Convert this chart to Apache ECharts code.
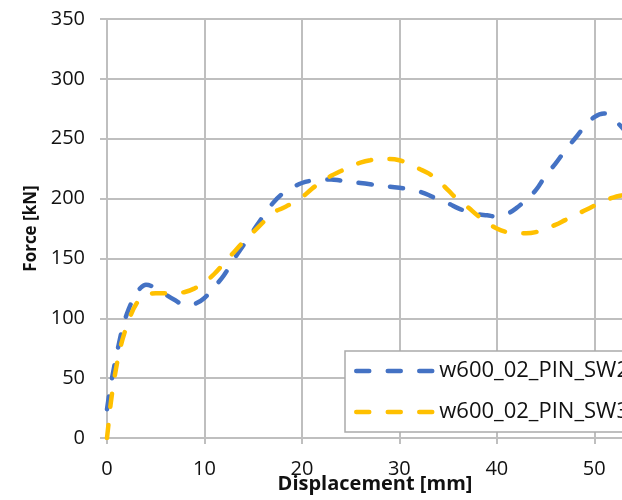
<!DOCTYPE html>
<html>
<head>
<meta charset="utf-8">
<script src="https://cdn.jsdelivr.net/npm/echarts@6/dist/echarts.min.js"></script>
<style>
html,body{margin:0;padding:0;background:#fff;overflow:hidden;width:622px;height:500px;}
#chart{width:643px;height:500px;position:absolute;left:0;top:0;}
</style>
</head>
<body>
<div id="chart"></div>
<script>
// ---- data ----
var seriesNames = ['w600_02_PIN_SW2', 'w600_02_PIN_SW3'];
var xTickValues = [0, 10, 20, 30, 40, 50];
var yTickValues = [0, 50, 100, 150, 200, 250, 300, 350];

var dispSW2 = [0, 0.3, 0.7, 1.2, 1.7, 2.2, 2.8, 3.4, 4, 4.8, 5.8, 7, 8, 9, 10, 11, 12, 13, 14, 15, 16, 17, 18, 19, 20, 21, 22, 23, 24, 25, 26, 27, 28, 29, 30, 31, 32, 33, 34, 35, 36, 37, 38, 39, 40, 41, 42, 43, 44, 45, 46, 47, 48, 49, 50, 51, 52, 53, 54, 55];
var forceSW2 = [24, 40, 58, 78, 95, 107, 118, 125, 128, 126, 121, 115, 111, 112, 117, 126, 136, 149, 161, 173, 185, 196, 204, 209, 213, 215, 216, 216, 215, 214, 213, 212, 211, 210, 209, 208, 206, 203, 199, 196, 192, 189, 187, 186, 185, 187, 192, 199, 207, 219, 229, 240, 250, 260, 268, 271, 266, 258, 248, 237];

var dispSW3 = [0, 0.2, 0.4, 0.8, 1.3, 1.8, 2.4, 3.0, 3.6, 4.3, 5, 6, 7, 8, 9, 10, 11, 12, 13, 14, 15, 16, 17, 18, 19, 20, 21, 22, 23, 24, 25, 26, 27, 28, 29, 30, 31, 32, 33, 34, 35, 36, 37, 38, 39, 40, 41, 42, 43, 44, 45, 46, 47, 48, 49, 50, 51, 52, 53, 54, 55];
var forceSW3 = [0, 15, 30, 52, 73, 88, 102, 112, 117, 120, 121, 121, 121, 122, 125, 130, 137, 146, 155, 164, 172, 180, 188, 192, 196, 201, 208, 214, 219, 223, 227, 230, 232, 233, 233, 232, 229, 225, 221, 215, 207, 199, 193, 186, 180, 175, 172, 171, 171, 172, 175, 178, 182, 186, 190, 194, 198, 201, 203, 205, 207];

function pairs(xs, ys) {
  var out = [];
  for (var i = 0; i < xs.length; i++) out.push([xs[i], ys[i]]);
  return out;
}

var gridColor = '#BFBFBF';
var textColor = '#111';
var fontFam = '"Open Sans", "Noto Sans", sans-serif';

var chart = echarts.init(document.getElementById('chart'), null, {renderer: 'canvas', width: 643, height: 500});
chart.setOption({
  animation: false,
  backgroundColor: '#fff',
  grid: {left: 107, top: 19, height: 419, width: 536, containLabel: false, outerBoundsMode: 'none'},
  xAxis: {
    type: 'value', min: 0, max: 55, interval: 10,
    name: 'Displacement [mm]', nameLocation: 'middle', nameGap: 36, nameMoveOverlap: false,
    nameTextStyle: {fontFamily: fontFam, fontSize: 20, fontWeight: 'bold', color: textColor},
    axisLine: {show: true, lineStyle: {color: gridColor, width: 2}},
    axisTick: {show: true, length: 6, lineStyle: {color: gridColor, width: 2}},
    axisLabel: {
      margin: 21, color: textColor, fontFamily: fontFam, fontSize: 20,
      formatter: function (v) { return xTickValues.indexOf(v) >= 0 ? String(v) : ''; }
    },
    splitLine: {show: true, lineStyle: {color: gridColor, width: 2}}
  },
  yAxis: {
    type: 'value', min: 0, max: 350, interval: 50,
    name: 'Force [kN]', nameLocation: 'middle', nameGap: 61, nameRotate: 90,
    nameTextStyle: {fontFamily: fontFam, fontSize: 17, fontWeight: 'bold', color: textColor},
    axisLine: {show: true, lineStyle: {color: gridColor, width: 2}},
    axisTick: {show: true, length: 7, lineStyle: {color: gridColor, width: 2}},
    axisLabel: {
      margin: 22, color: textColor, fontFamily: fontFam, fontSize: 20,
      formatter: function (v) { return yTickValues.indexOf(v) >= 0 ? String(v) : ''; }
    },
    splitLine: {show: true, lineStyle: {color: gridColor, width: 2}}
  },
  legend: {
    orient: 'vertical', left: 345, top: 351,
    backgroundColor: '#fff', borderColor: '#ABABAB', borderWidth: 1.5,
    padding: [8, 20, 8, 9],
    itemWidth: 78, itemHeight: 14, itemGap: 17,
    itemStyle: {opacity: 0},
    lineStyle: {width: 4.5, cap: 'round'},
    textStyle: {fontFamily: fontFam, fontSize: 22, color: textColor, lineHeight: 24},
    data: seriesNames
  },
  series: [
    {
      name: seriesNames[0], type: 'line', data: pairs(dispSW2, forceSW2),
      smooth: 0.4, symbol: 'none', color: '#4472C4',
      lineStyle: {color: '#4472C4', width: 4.5, type: [13, 18.5], cap: 'round'}
    },
    {
      name: seriesNames[1], type: 'line', data: pairs(dispSW3, forceSW3),
      smooth: 0.4, symbol: 'none', color: '#FFC000',
      lineStyle: {color: '#FFC000', width: 4.5, type: [13, 18.5], cap: 'round'}
    }
  ]
});
</script>
</body>
</html>
